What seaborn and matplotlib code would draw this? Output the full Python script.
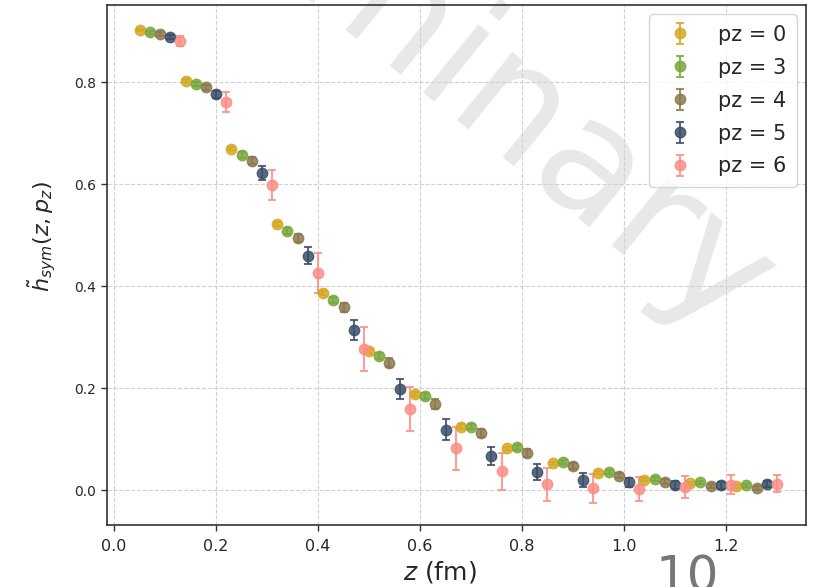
import matplotlib
matplotlib.use('Agg')
import matplotlib.pyplot as plt
import seaborn as sns
import numpy as np

# lattice separations z (fm), each pz series is dodged a little around them
z_fm = [0.09, 0.18, 0.27, 0.36, 0.45, 0.54, 0.63, 0.72, 0.81, 0.90, 0.99, 1.08, 1.17, 1.26]
pz_labels = ["pz = 0", "pz = 3", "pz = 4", "pz = 5", "pz = 6"]

h_pz0 = [0.902, 0.803, 0.669, 0.522, 0.386, 0.273, 0.188, 0.125, 0.082, 0.053, 0.034, 0.021, 0.014, 0.008]
h_pz3 = [0.898, 0.796, 0.657, 0.508, 0.373, 0.264, 0.184, 0.125, 0.084, 0.055, 0.036, 0.023, 0.016, 0.010]
h_pz4 = [0.894, 0.790, 0.646, 0.494, 0.359, 0.250, 0.169, 0.112, 0.073, 0.047, 0.029, 0.017, 0.009, 0.005]
h_pz5 = [0.888, 0.776, 0.622, 0.460, 0.314, 0.199, 0.119, 0.067, 0.036, 0.020, 0.016, 0.011, 0.010, 0.013]
h_pz6 = [0.880, 0.761, 0.598, 0.426, 0.277, 0.159, 0.082, 0.037, 0.012, 0.004, 0.003, 0.007, 0.011, 0.013]

err_pz0 = [0.002, 0.003, 0.003, 0.004, 0.004, 0.004, 0.004, 0.004, 0.003, 0.003, 0.003, 0.003, 0.003, 0.003]
err_pz3 = [0.003, 0.004, 0.005, 0.006, 0.006, 0.006, 0.006, 0.005, 0.005, 0.004, 0.004, 0.004, 0.003, 0.003]
err_pz4 = [0.004, 0.005, 0.007, 0.008, 0.009, 0.009, 0.009, 0.008, 0.007, 0.006, 0.005, 0.005, 0.004, 0.004]
err_pz5 = [0.004, 0.007, 0.013, 0.016, 0.019, 0.020, 0.020, 0.017, 0.016, 0.014, 0.009, 0.008, 0.007, 0.006]
err_pz6 = [0.010, 0.020, 0.030, 0.039, 0.043, 0.043, 0.042, 0.037, 0.032, 0.028, 0.024, 0.022, 0.019, 0.017]

values = [h_pz0, h_pz3, h_pz4, h_pz5, h_pz6]
errors = [err_pz0, err_pz3, err_pz4, err_pz5, err_pz6]

# styling
dodge = [-0.04, -0.02, 0.0, 0.02, 0.04]
colors = sns.color_palette(["#d6a823", "#78a83e", "#8c7a4e", "#3a5068", "#fb8e86"])

sns.set_theme(style="whitegrid")
plt.rcParams['font.family'] = ['DejaVu Sans']

fig = plt.figure(figsize=(8.18, 5.87), dpi=100)
fig.patch.set_facecolor("white")
ax = fig.add_axes([0.1308, 0.1056, 0.8545, 0.8859])
ax.set_facecolor("white")

# watermark behind the grid
ax.text(0.488, 0.952, "Preliminary", transform=fig.transFigure, fontsize=115,
        color="#e8e8e8", rotation=-39, rotation_mode="anchor",
        ha="center", va="center", zorder=0.1, clip_on=False)

for k in range(len(values)):
    x = np.array(z_fm) + dodge[k]
    ax.errorbar(x, values[k], yerr=errors[k], fmt="o", color=colors[k],
                markersize=7.5, elinewidth=1.5, capsize=3, capthick=1.5,
                alpha=0.85, label=pz_labels[k], zorder=3)

ax.set_xlim(-0.014, 1.357)
ax.set_ylim(-0.068, 0.951)
ax.set_xticks([0.0, 0.2, 0.4, 0.6, 0.8, 1.0, 1.2])
ax.set_yticks([0.0, 0.2, 0.4, 0.6, 0.8])

ax.grid(True, linestyle="--", color="#d0d0d0", linewidth=0.8)
for side in ["left", "right", "top", "bottom"]:
    ax.spines[side].set_color("#333333")
    ax.spines[side].set_linewidth(1.2)

ax.tick_params(axis="both", which="major", bottom=True, left=True,
               length=4, width=1, color="#333333")
ax.tick_params(axis="y", labelsize=10, pad=4)
ax.tick_params(axis="x", labelsize=11.5, pad=6)

ax.set_ylabel(r"$\tilde{h}_{sym}(z, p_z)$", fontsize=16)
ax.yaxis.set_label_coords(-0.07, 0.554)
ax.set_xlabel(r"$z$ (fm)", fontsize=18)
ax.xaxis.set_label_coords(0.476, -0.066)

leg = ax.legend(loc="upper right", fontsize=15, frameon=True,
                borderaxespad=0.45, borderpad=0.5, labelspacing=0.62,
                handletextpad=0.8)
leg.get_frame().set_edgecolor("#cccccc")
leg.set_zorder(5)

fig.text(0.840, 0.057, "10", fontsize=36, color="#777777",
         ha="center", va="top")

fig.savefig("out.png", dpi=100)
